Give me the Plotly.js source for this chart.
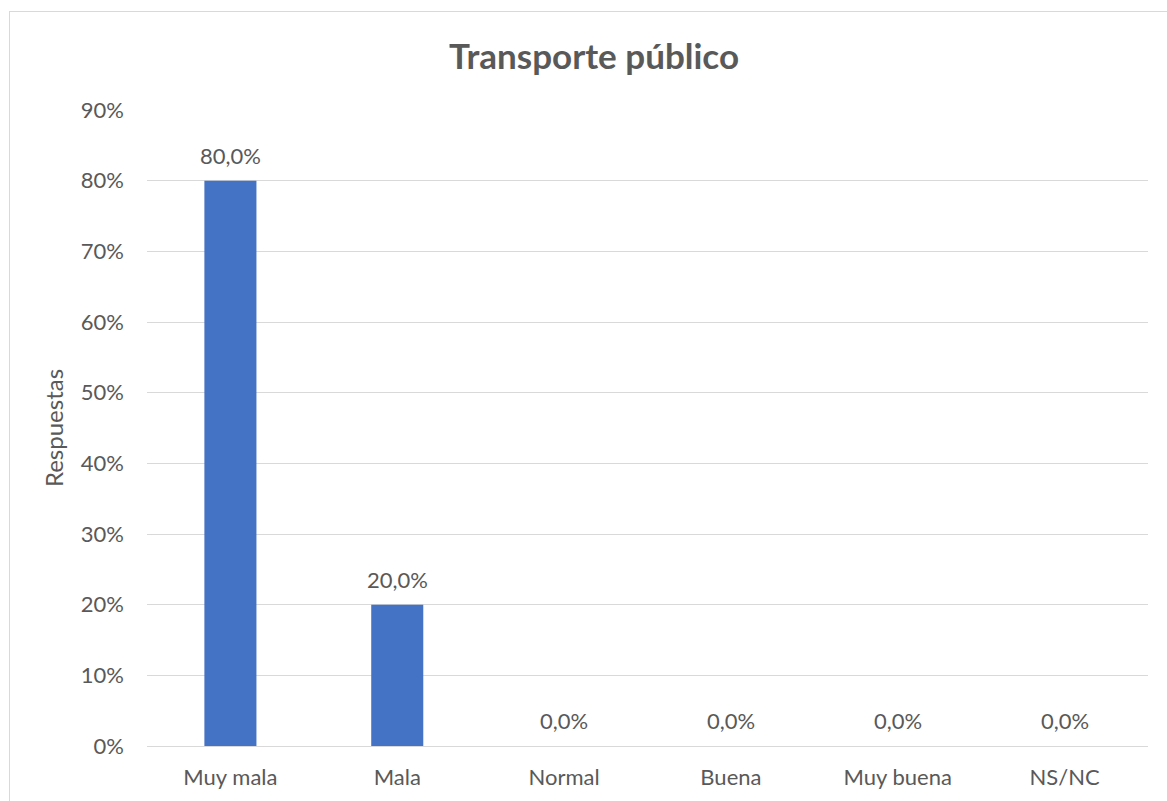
<!DOCTYPE html>
<html>
<head>
<meta charset="utf-8">
<script src="https://cdn.plot.ly/plotly-3.0.1.min.js"></script>
<style>
  html, body { margin: 0; padding: 0; background: #fff; overflow: hidden; }
  #chart { width: 1167px; height: 801px; }
  #frame { position: absolute; left: 9px; top: 11px; width: 1200px; height: 850px;
           border: 1px solid #d9d9d9; pointer-events: none; }
</style>
</head>
<body>
<div id="chart"></div>
<div id="frame"></div>
<script>
const categories = ["Muy mala", "Mala", "Normal", "Buena", "Muy buena", "NS/NC"];
const values = [0.80, 0.20, 0.0, 0.0, 0.0, 0.0];
const labels = values.map(v => (v * 100).toFixed(1).replace('.', ',') + '%');

const font = "Lato, 'Open Sans', sans-serif";
const grey = '#595959';

const annotations = categories.map((c, i) => ({
  x: c, y: values[i], xref: 'x', yref: 'y',
  text: labels[i], showarrow: false,
  yanchor: 'bottom', yshift: 10,
  font: { family: font, size: 22, color: grey }
}));

Plotly.newPlot('chart', [{
  type: 'bar',
  x: categories,
  y: values,
  marker: { color: '#4472c4' },
  hoverinfo: 'skip'
}], {
  width: 1167,
  height: 801,
  margin: { l: 147, r: 19, t: 110, b: 55 },
  paper_bgcolor: '#fff',
  plot_bgcolor: '#fff',
  bargap: 0.688,
  separators: ',.',
  showlegend: false,
  annotations: annotations,
  title: {
    text: '<b>Transporte público</b>',
    x: 0.509, xanchor: 'center',
    y: 0.929, yanchor: 'middle',
    font: { family: font, size: 35, color: grey }
  },
  xaxis: {
    showgrid: false,
    showline: false,
    ticks: '',
    ticklabelstandoff: 16,
    tickfont: { family: font, size: 22, color: grey },
    fixedrange: true
  },
  yaxis: {
    range: [0, 0.9],
    dtick: 0.1,
    tickformat: '.0%',
    gridcolor: '#d9d9d9',
    gridwidth: 1,
    zeroline: true,
    zerolinecolor: '#d9d9d9',
    zerolinewidth: 1,
    ticks: '',
    ticklabelstandoff: 22,
    tickfont: { family: font, size: 22, color: grey },
    title: {
      text: 'Respuestas',
      standoff: 10,
      font: { family: font, size: 24, color: grey }
    },
    fixedrange: true
  }
}, { displayModeBar: false, staticPlot: true });
</script>
</body>
</html>
